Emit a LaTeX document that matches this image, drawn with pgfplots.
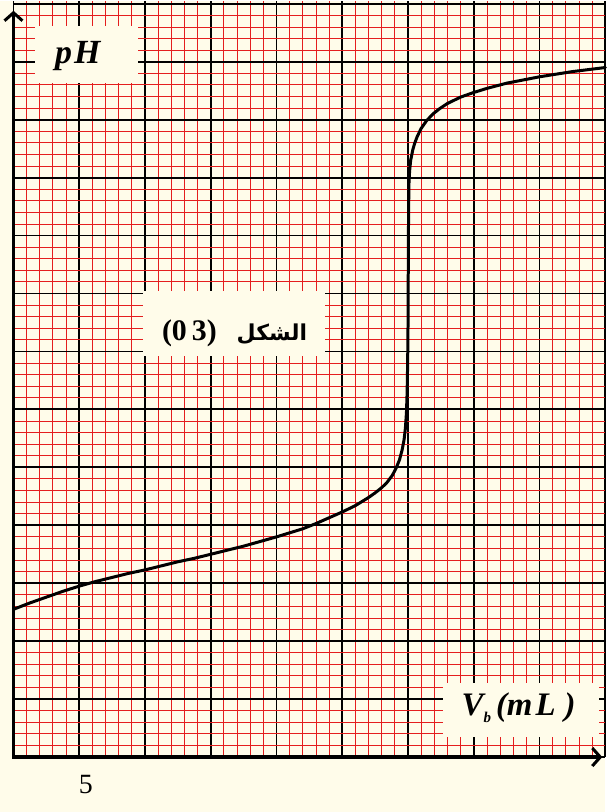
\documentclass[border=0pt]{standalone}
\usepackage{fontspec}
\setmainfont{Liberation Serif}
\newfontfamily\arabicfont[Script=Arabic]{DejaVu Sans}
\TeXXeTstate=1
\usepackage{pgfplots}
\pgfplotsset{compat=1.18}
\usetikzlibrary{arrows.meta}
\definecolor{paper}{RGB}{255,252,234}
\definecolor{gridred}{RGB}{228,30,30}
\begin{document}
\begin{tikzpicture}
\fill[paper] (0bp,0bp) rectangle (606bp,812bp);
\begin{axis}[
  at={(13.5bp,55bp)}, anchor=south west,
  scale only axis, width=592.5bp, height=757bp,
  xmin=0, xmax=45, ymin=0, ymax=13.05,
  xtick={0,5,...,45}, ytick={0,1,...,13},
  minor x tick num=4, minor y tick num=4,
  grid=both,
  minor grid style={gridred, line width=0.9bp},
  major grid style={black, line width=1.8bp},
  major tick length=0pt, minor tick length=0pt,
  axis line style={draw=none},
  yticklabels={},
  xticklabels={,5,,,,,,,,},
  xticklabel style={font=\fontsize{28}{30}\selectfont, anchor=north, inner sep=0pt, yshift=-18bp, xshift=6.5bp},
  clip=false,
]
\addplot[black, line width=3bp, line join=round, line cap=round] coordinates {
(0,2.55) (1.25,2.66) (2.5,2.76) (3.75,2.86) (5,2.95) (6.25,3.03) (7.5,3.10) (8.75,3.17)
(10,3.23) (11.25,3.30) (12.5,3.37) (13.75,3.43) (15,3.50) (16.25,3.57) (17.5,3.64)
(18.75,3.72) (20,3.80) (21,3.87) (22,3.94) (23,4.03) (24,4.13) (25,4.23) (26,4.34)
(27,4.48) (27.5,4.56) (28,4.65) (28.4,4.74) (28.8,4.86) (29.1,4.99) (29.35,5.13)
(29.55,5.30) (29.7,5.48) (29.8,5.68) (29.88,5.95) (29.93,6.3) (29.97,6.8) (30.0,7.5)
(30.02,8.6) (30.04,9.4) (30.07,9.9) (30.12,10.12) (30.2,10.30) (30.35,10.47)
(30.5,10.59) (30.7,10.71) (31.0,10.85) (31.4,10.98) (31.9,11.10) (32.4,11.19)
(33,11.28) (34,11.39) (35,11.47) (36,11.54) (37.5,11.63) (40,11.74) (42.5,11.83) (45,11.90)
};
\draw[line width=3.5bp, line join=miter,
  {Straight Barb[length=8bp,width=18bp,line width=3bp]}-{Straight Barb[length=8bp,width=18bp,line width=3bp]}]
  (axis cs:0,12.88) -- (axis cs:0,0) -- (axis cs:44.77,0);
\end{axis}
% label boxes
\fill[paper] (35bp,730bp) rectangle (138bp,787bp);
\node[anchor=base west, inner sep=0pt] at (55bp,749bp)
  {\fontsize{34}{34}\selectfont\bfseries\itshape p\hspace{2bp}H};
\fill[paper] (443bp,75bp) rectangle (600bp,129bp);
\node[anchor=base west, inner sep=0pt] at (462bp,97bp)
  {\fontsize{33}{33}\selectfont\bfseries\itshape V\raisebox{-7bp}{\fontsize{15}{15}\selectfont b}\hspace{5bp}(m\hspace{3bp}L\hspace{9bp})};
\fill[paper] (143bp,457bp) rectangle (325bp,522bp);
\node[anchor=base west, inner sep=0pt] at (162bp,472bp)
  {{\fontsize{30}{30}\selectfont\bfseries (0\,3)}\hspace{20bp}{\arabicfont\bfseries\fontsize{22}{22}\selectfont\beginR الشكل\endR}};
\end{tikzpicture}
\end{document}
